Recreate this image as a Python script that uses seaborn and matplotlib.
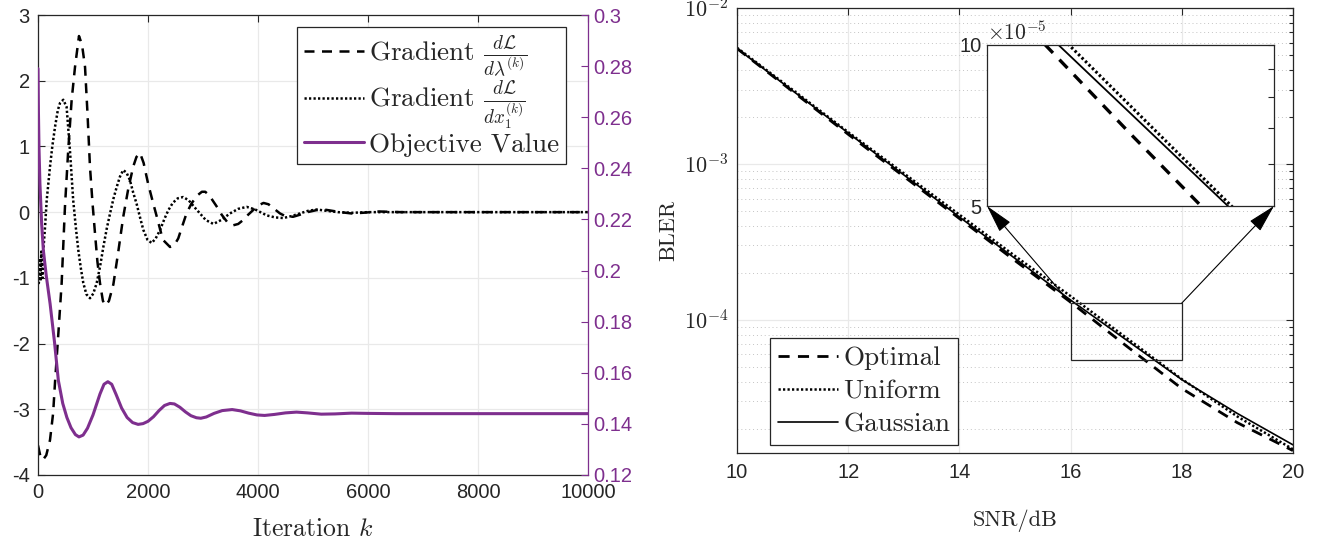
import numpy as np
import matplotlib
matplotlib.use("Agg")
import matplotlib.pyplot as plt
import seaborn as sns
from matplotlib.ticker import FixedLocator, FuncFormatter, NullFormatter, LogLocator
from matplotlib.patches import Rectangle
from matplotlib.lines import Line2D

# ---------------- data ----------------
iter_dlam = [0, 45, 90, 150, 218, 275, 310, 370, 430, 490, 550, 612, 673, 745, 800, 855, 900, 945,
             990, 1036, 1080, 1127, 1180, 1230, 1290, 1370, 1460, 1550, 1640, 1730, 1790, 1855, 1920,
             2000, 2080, 2160, 2270, 2400, 2480, 2550, 2620, 2700, 2790, 2890, 2980, 3040, 3110, 3190,
             3270, 3340, 3440, 3550, 3640, 3730, 3820, 3910, 4000, 4100, 4190, 4280, 4400, 4520, 4640,
             4760, 4900, 5060, 5200, 5350, 5500, 5700, 5900, 6200, 6600, 7200, 8000, 9000, 10000]
grad_dlam = [-3.55, -3.72, -3.77, -3.70, -3.47, -3.06, -2.58, -1.85, -1.08, 0.08, 0.95, 1.71, 2.21, 2.68,
             2.55, 2.21, 1.50, 0.69, 0.15, -0.32, -0.75, -1.08, -1.35, -1.42, -1.35, -1.10, -0.60, -0.07,
             0.35, 0.69, 0.84, 0.90, 0.75, 0.44, 0.18, -0.07, -0.42, -0.53, -0.50, -0.40, -0.22, -0.02,
             0.13, 0.25, 0.31, 0.31, 0.26, 0.16, 0.06, -0.04, -0.15, -0.20, -0.18, -0.12, -0.04, 0.03,
             0.10, 0.14, 0.12, 0.06, -0.02, -0.07, -0.07, -0.04, 0.00, 0.03, 0.04, 0.02, 0.00, -0.02,
             -0.01, 0.01, 0.00, 0.00, 0.00, 0.00, 0.00]

iter_dx = [0, 15, 30, 45, 60, 80, 100, 130, 158, 218, 260, 310, 360, 400, 460, 520, 580, 640, 690, 733,
           780, 824, 880, 945, 1005, 1067, 1130, 1188, 1250, 1310, 1370, 1430, 1490, 1550, 1610, 1670,
           1730, 1795, 1855, 1915, 1990, 2067, 2140, 2220, 2300, 2370, 2450, 2540, 2640, 2740, 2840,
           2945, 3050, 3190, 3330, 3490, 3640, 3795, 3950, 4160, 4310, 4460, 4610, 4760, 4910, 5070,
           5250, 5450, 5700, 6000, 6500, 7500, 8500, 10000]
grad_dx = [-1.00, -1.08, -0.70, -1.05, -0.60, -1.00, -0.55, -0.20, 0.18, 0.69, 1.00, 1.30, 1.55, 1.66,
           1.71, 1.60, 0.95, 0.18, -0.25, -0.58, -0.86, -1.08, -1.25, -1.31, -1.24, -1.08, -0.82, -0.53,
           -0.25, -0.02, 0.20, 0.38, 0.54, 0.64, 0.60, 0.49, 0.30, 0.12, -0.08, -0.27, -0.42, -0.47,
           -0.40, -0.27, -0.10, 0.03, 0.14, 0.21, 0.23, 0.18, 0.08, -0.02, -0.12, -0.18, -0.12, -0.02,
           0.05, 0.08, 0.04, -0.05, -0.08, -0.09, -0.06, -0.02, 0.02, 0.04, 0.02, 0.00, -0.01, 0.00,
           0.00, 0.00, 0.00, 0.00]

iter_obj = [0, 8, 18, 35, 67, 97, 150, 220, 300, 370, 450, 525, 600, 680, 745, 820, 900, 1000, 1127,
            1200, 1270, 1340, 1420, 1520, 1620, 1720, 1820, 1910, 2000, 2100, 2200, 2300, 2400, 2480,
            2580, 2680, 2780, 2880, 2960, 3060, 3200, 3350, 3530, 3680, 3830, 3980, 4120, 4300, 4500,
            4700, 4900, 5150, 5400, 5700, 6000, 6500, 7500, 8500, 10000]
obj_val = [0.279, 0.262, 0.248, 0.234, 0.218, 0.208, 0.198, 0.187, 0.172, 0.157, 0.148, 0.1425, 0.1385,
           0.1358, 0.1349, 0.1356, 0.1383, 0.1435, 0.1517, 0.1555, 0.1565, 0.1555, 0.1515, 0.1462,
           0.1425, 0.1405, 0.1398, 0.1401, 0.1410, 0.1428, 0.1452, 0.1472, 0.1480, 0.1478, 0.1465,
           0.1447, 0.1432, 0.1424, 0.1422, 0.1427, 0.1441, 0.1452, 0.1456, 0.1451, 0.1442, 0.1435,
           0.1433, 0.1437, 0.1443, 0.1446, 0.1443, 0.1438, 0.1439, 0.1442, 0.1441, 0.1440, 0.1440,
           0.1440, 0.1440]

left_yticks = [-4, -3, -2, -1, 0, 1, 2, 3]
right_yticks = [0.12, 0.14, 0.16, 0.18, 0.20, 0.22, 0.24, 0.26, 0.28, 0.30]
iter_ticks = [0, 2000, 4000, 6000, 8000, 10000]

snr_db = [10, 11, 12, 13, 14, 15, 16, 17, 18, 19, 20]
bler_optimal = [5.50e-3, 2.92e-3, 1.55e-3, 8.32e-4, 4.47e-4, 2.40e-4, 1.30e-4, 6.82e-5, 3.63e-5, 2.19e-5, 1.45e-5]
bler_uniform = [5.56e-3, 2.99e-3, 1.60e-3, 8.71e-4, 4.73e-4, 2.57e-4, 1.42e-4, 7.69e-5, 4.17e-5, 2.40e-5, 1.48e-5]
bler_gaussian = [5.50e-3, 2.95e-3, 1.58e-3, 8.51e-4, 4.57e-4, 2.48e-4, 1.34e-4, 7.45e-5, 4.14e-5, 2.51e-5, 1.58e-5]
snr_ticks = [10, 12, 14, 16, 18, 20]
zoom_x = [16, 18]
zoom_y = [5.5e-5, 1.28e-4]
inset_x = [16, 18]
inset_y = [5e-5, 1e-4]

# ---------------- style ----------------
sns.set_theme(style="white")
plt.rcParams['font.family'] = ['Liberation Sans', 'DejaVu Sans']
plt.rcParams['mathtext.fontset'] = 'cm'
plt.rcParams['axes.unicode_minus'] = False

INK = '#262626'
PURPLE = '#7E2F8E'
GRID = '#e9e9e9'
TICK_FS = 14.5
LEG_FS = 19.5
SERIF = 'cmr10'
DASH = (0, (4, 3))
DOT = (0, (0.9, 0.9))

fig = plt.figure(figsize=(13.25, 5.5), dpi=100)

# ================= left panel =================
ax1 = fig.add_axes([0.02868, 0.1364, 0.4151, 0.8363])
ax1b = ax1.twinx()

sns.lineplot(x=iter_dlam, y=grad_dlam, ax=ax1, color='black', linestyle=DASH, lw=1.8,
             estimator=None, sort=False)
sns.lineplot(x=iter_dx, y=grad_dx, ax=ax1, color='black', linestyle=DOT, lw=1.8,
             estimator=None, sort=False)
sns.lineplot(x=iter_obj, y=obj_val, ax=ax1b, color=PURPLE, lw=2.2,
             estimator=None, sort=False)

ax1.set_xlim(0, 10000)
ax1.set_ylim(-4, 3)
ax1b.set_ylim(0.12, 0.30)
ax1.set_xticks(iter_ticks)
ax1.set_yticks(left_yticks)
ax1.set_yticklabels([str(v) for v in left_yticks])
ax1b.set_yticks(right_yticks)
ax1b.set_yticklabels(['%g' % v for v in right_yticks])
ax1.grid(True, color=GRID, lw=0.9)
ax1.set_axisbelow(True)

for sp in ['left', 'bottom', 'top']:
    ax1.spines[sp].set_color(INK)
    ax1.spines[sp].set_linewidth(0.9)
ax1.spines['right'].set_visible(False)
for sp in ['left', 'bottom', 'top']:
    ax1b.spines[sp].set_visible(False)
ax1b.spines['right'].set_color(PURPLE)
ax1b.spines['right'].set_linewidth(0.9)

ax1.tick_params(axis='both', direction='in', length=5, width=0.8, color=INK,
                labelsize=TICK_FS, labelcolor=INK, top=True, right=False, pad=6)
ax1b.tick_params(axis='y', direction='in', length=5, width=0.8, color=PURPLE,
                 labelsize=TICK_FS, labelcolor=PURPLE, pad=4)
ax1.set_xlabel('Iteration $k$', family=SERIF, fontsize=18.5, color=INK, labelpad=11)
ax1.set_ylabel('')
ax1b.set_ylabel('')

handles1 = [Line2D([], [], color='black', linestyle=DASH, lw=1.8),
            Line2D([], [], color='black', linestyle=DOT, lw=1.8),
            Line2D([], [], color=PURPLE, lw=2.2)]
labels1 = [r'Gradient $\frac{d\mathcal{L}}{d\lambda^{(k)}}$',
           r'Gradient $\frac{d\mathcal{L}}{dx_1^{(k)}}$',
           'Objective Value']
leg1 = ax1b.legend(handles1, labels1, loc='upper right',
                   bbox_to_anchor=(566 / 1325, 1 - 27 / 550), bbox_transform=fig.transFigure,
                   prop={'family': SERIF, 'size': LEG_FS}, frameon=True, fancybox=False,
                   edgecolor=INK, framealpha=1, borderaxespad=0, handlelength=2.2,
                   handletextpad=0.2, labelspacing=0.02, borderpad=0.25)
leg1.get_frame().set_linewidth(0.9)

# ================= right panel =================
ax2 = fig.add_axes([0.5562, 0.17636, 0.4196, 0.8091])
sns.lineplot(x=snr_db, y=bler_optimal, ax=ax2, color='black', linestyle=DASH, lw=2.0,
             estimator=None, sort=False)
sns.lineplot(x=snr_db, y=bler_uniform, ax=ax2, color='black', linestyle=DOT, lw=1.8,
             estimator=None, sort=False)
sns.lineplot(x=snr_db, y=bler_gaussian, ax=ax2, color='black', lw=1.2,
             estimator=None, sort=False)
ax2.set_yscale('log')
ax2.set_xlim(10, 20)
ax2.set_ylim(1.4e-5, 1e-2)
ax2.set_xticks(snr_ticks)
ax2.set_xticklabels([str(v) for v in snr_ticks])
ax2.yaxis.set_major_locator(FixedLocator([1e-4, 1e-3, 1e-2]))
ax2.yaxis.set_major_formatter(FuncFormatter(lambda v, p: r'$\mathsf{10^{%d}}$' % round(np.log10(v))))
ax2.yaxis.set_minor_locator(LogLocator(base=10, subs=np.arange(2, 10)))
ax2.yaxis.set_minor_formatter(NullFormatter())
ax2.grid(True, which='major', color=GRID, lw=0.9)
ax2.grid(True, which='minor', axis='y', color='#c4c4c4', lw=0.7, linestyle=(0, (1, 3)))
ax2.set_axisbelow(True)
for sp in ax2.spines.values():
    sp.set_color(INK)
    sp.set_linewidth(0.9)
ax2.tick_params(axis='both', which='both', direction='in', color=INK, width=0.8,
                labelsize=TICK_FS, labelcolor=INK, top=True, right=True)
ax2.tick_params(axis='x', which='major', length=5, pad=7)
ax2.tick_params(axis='y', which='major', length=5, pad=6, labelsize=TICK_FS + 1.5)
ax2.tick_params(axis='y', which='minor', length=3)
ax2.set_xlabel('SNR/dB', family=SERIF, fontsize=16, color=INK, labelpad=20)
ax2.set_ylabel('BLER', family=SERIF, fontsize=16, color=INK, labelpad=4)

handles2 = [Line2D([], [], color='black', linestyle=DASH, lw=2.0),
            Line2D([], [], color='black', linestyle=DOT, lw=1.8),
            Line2D([], [], color='black', lw=1.2)]
leg2 = ax2.legend(handles2, ['Optimal', 'Uniform', 'Gaussian'], loc='lower left',
                  bbox_to_anchor=(770 / 1325, 1 - 445 / 550), bbox_transform=fig.transFigure,
                  prop={'family': SERIF, 'size': LEG_FS}, frameon=True, fancybox=False,
                  edgecolor=INK, framealpha=1, borderaxespad=0, handlelength=2.2,
                  handletextpad=0.2, labelspacing=0.35, borderpad=0.3)
leg2.get_frame().set_linewidth(0.9)

# zoom rectangle
ax2.add_patch(Rectangle((zoom_x[0], zoom_y[0]), zoom_x[1] - zoom_x[0], zoom_y[1] - zoom_y[0],
                        fill=False, edgecolor=INK, lw=0.9, zorder=5))

# ================= inset =================
axi = fig.add_axes([987 / 1325, 1 - 206 / 550, 287 / 1325, 161 / 550])
sns.lineplot(x=snr_db, y=bler_optimal, ax=axi, color='black', linestyle=(0, (3.5, 2.8)), lw=2.4,
             estimator=None, sort=False)
sns.lineplot(x=snr_db, y=bler_uniform, ax=axi, color='black', linestyle=(0, (0.8, 0.8)), lw=2.2,
             estimator=None, sort=False)
sns.lineplot(x=snr_db, y=bler_gaussian, ax=axi, color='black', lw=1.3,
             estimator=None, sort=False)
axi.set_yscale('log')
axi.set_xlim(inset_x)
axi.set_ylim(inset_y)
axi.set_xticks([])
axi.yaxis.set_major_locator(FixedLocator(inset_y))
axi.yaxis.set_major_formatter(FuncFormatter(lambda v, p: '%g' % round(v * 1e5)))
axi.yaxis.set_minor_locator(FixedLocator([6e-5, 7e-5, 8e-5, 9e-5]))
axi.yaxis.set_minor_formatter(NullFormatter())
axi.tick_params(axis='y', which='both', direction='in', color=INK, width=0.8, length=4,
                labelsize=TICK_FS, labelcolor=INK, right=True, pad=4)
axi.grid(False)
axi.set_facecolor('white')
for sp in axi.spines.values():
    sp.set_color(INK)
    sp.set_linewidth(0.9)
axi.set_xlabel('')
axi.set_ylabel('')
axi.text(0.0, 1.0, r'$\mathsf{\times 10^{-5}}$', transform=axi.transAxes, ha='left', va='bottom',
         fontsize=TICK_FS + 1, color=INK)

for corner, xs in [((0, 0), zoom_x[0]), ((1, 0), zoom_x[1])]:
    axi.annotate('', xy=corner, xycoords='axes fraction',
                 xytext=(xs, zoom_y[1]), textcoords=ax2.transData,
                 arrowprops=dict(arrowstyle='-|>,head_length=1.1,head_width=0.28', color='black',
                                 lw=0.8, shrinkA=0, shrinkB=0, mutation_scale=16),
                 annotation_clip=False)

fig.savefig('out.png', dpi=100)
